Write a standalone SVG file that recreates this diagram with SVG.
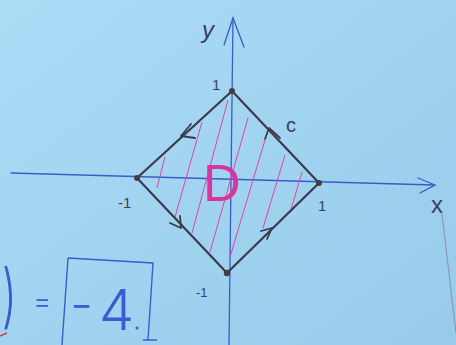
<svg xmlns="http://www.w3.org/2000/svg" width="456" height="345" viewBox="0 0 456 345">
<defs>
<linearGradient id="bg" x1="0" y1="0" x2="1" y2="1">
<stop offset="0" stop-color="#abdcf6"/>
<stop offset="0.6" stop-color="#9fd2ef"/>
<stop offset="1" stop-color="#97cbe9"/>
</linearGradient>
<style>
.axis{stroke:#3a5cc8;stroke-width:1.3;fill:none;stroke-linecap:round}
.edge{stroke:#3b3a4a;stroke-width:2.2;fill:none;stroke-linecap:round;stroke-linejoin:round}
.chev{stroke:#3b3a4a;stroke-width:1.8;fill:none;stroke-linecap:round;stroke-linejoin:round}
.hatch{stroke:#e2439e;stroke-width:1;fill:none}
.lbl{font-family:"Liberation Sans",Arial,sans-serif;fill:#3a3f62}
.blue{font-family:Inter,"Liberation Sans",Arial,sans-serif;font-weight:300;fill:#3a5cd0}
.dot{fill:#4a3a44}
</style>
</defs>
<rect width="456" height="345" fill="url(#bg)"/>

<g id="axes">
<path class="axis" d="M11 173 L434 185"/>
<path class="axis" d="M418 178 L435 185 L420 193"/>
<path class="axis" d="M229 345 L233 18"/>
<path class="axis" d="M224 45 L233 18 L244 47"/>
<path d="M442 214 L456 333" stroke="#8a9bb0" stroke-width="1.2" fill="none"/>
<text class="lbl" x="202" y="38" font-size="24" font-style="italic">y</text>
<text class="lbl" x="431" y="213" font-size="24">x</text>
</g>

<g id="hatching">
<path class="hatch" d="M157 188 L165 157"/>
<path class="hatch" d="M175 217 L202 122"/>
<path class="hatch" d="M192 233 L228 100"/>
<path class="hatch" d="M210 252 L248 118"/>
<path class="hatch" d="M230 257 L265 140"/>
<path class="hatch" d="M263 228 L285 155"/>
<path class="hatch" d="M290 213 L302 172"/>
</g>

<g id="region-D">
<text x="203" y="201" font-family="Liberation Sans, Arial, sans-serif" font-size="52" fill="#d8369c">D</text>
</g>

<g id="contour-C">
<path class="edge" d="M232 91 L319 183 L227 273 L137 178 Z"/>
<path class="chev" d="M191 124 L181 136 L195 138"/>
<path class="chev" d="M265 139 L269 128 L280 138"/>
<path class="chev" d="M170 223 L181 228 L180 216"/>
<path class="chev" d="M261 231 L272 228 L267 239"/>
<circle class="dot" cx="232" cy="91" r="3"/>
<circle class="dot" cx="319" cy="183" r="3"/>
<circle class="dot" cx="227" cy="273" r="3.2"/>
<circle class="dot" cx="137" cy="178" r="3"/>
<text class="lbl" x="286" y="132" font-size="20">c</text>
</g>

<g id="tick-labels">
<text class="lbl" x="212" y="90" font-size="15">1</text>
<text class="lbl" x="118" y="208" font-size="15">-1</text>
<text class="lbl" x="318" y="211" font-size="15">1</text>
<text class="lbl" x="196" y="297" font-size="13">-1</text>
</g>

<g id="result">
<text class="blue" transform="translate(2 320) scale(0.75 1.25)" x="0" y="0" font-size="56" font-weight="400">)</text>
<path d="M0 336 L7 333" stroke="#d04050" stroke-width="1.5"/>
<text class="blue" x="33" y="311" font-size="28" font-weight="400">=</text>
<path d="M68 258 L153 263 L148 340 M68 258 L62 345 M143 340 L157 340" stroke="#3a5cd0" stroke-width="1.4" fill="none"/>
<text class="blue" transform="translate(70 320) scale(1.15 1)" x="0" y="0" font-size="44">-</text>
<text class="blue" x="99" y="330" font-size="56">4</text>
<circle cx="137" cy="328" r="1.5" fill="#3a5cd0"/>
</g>
</svg>
